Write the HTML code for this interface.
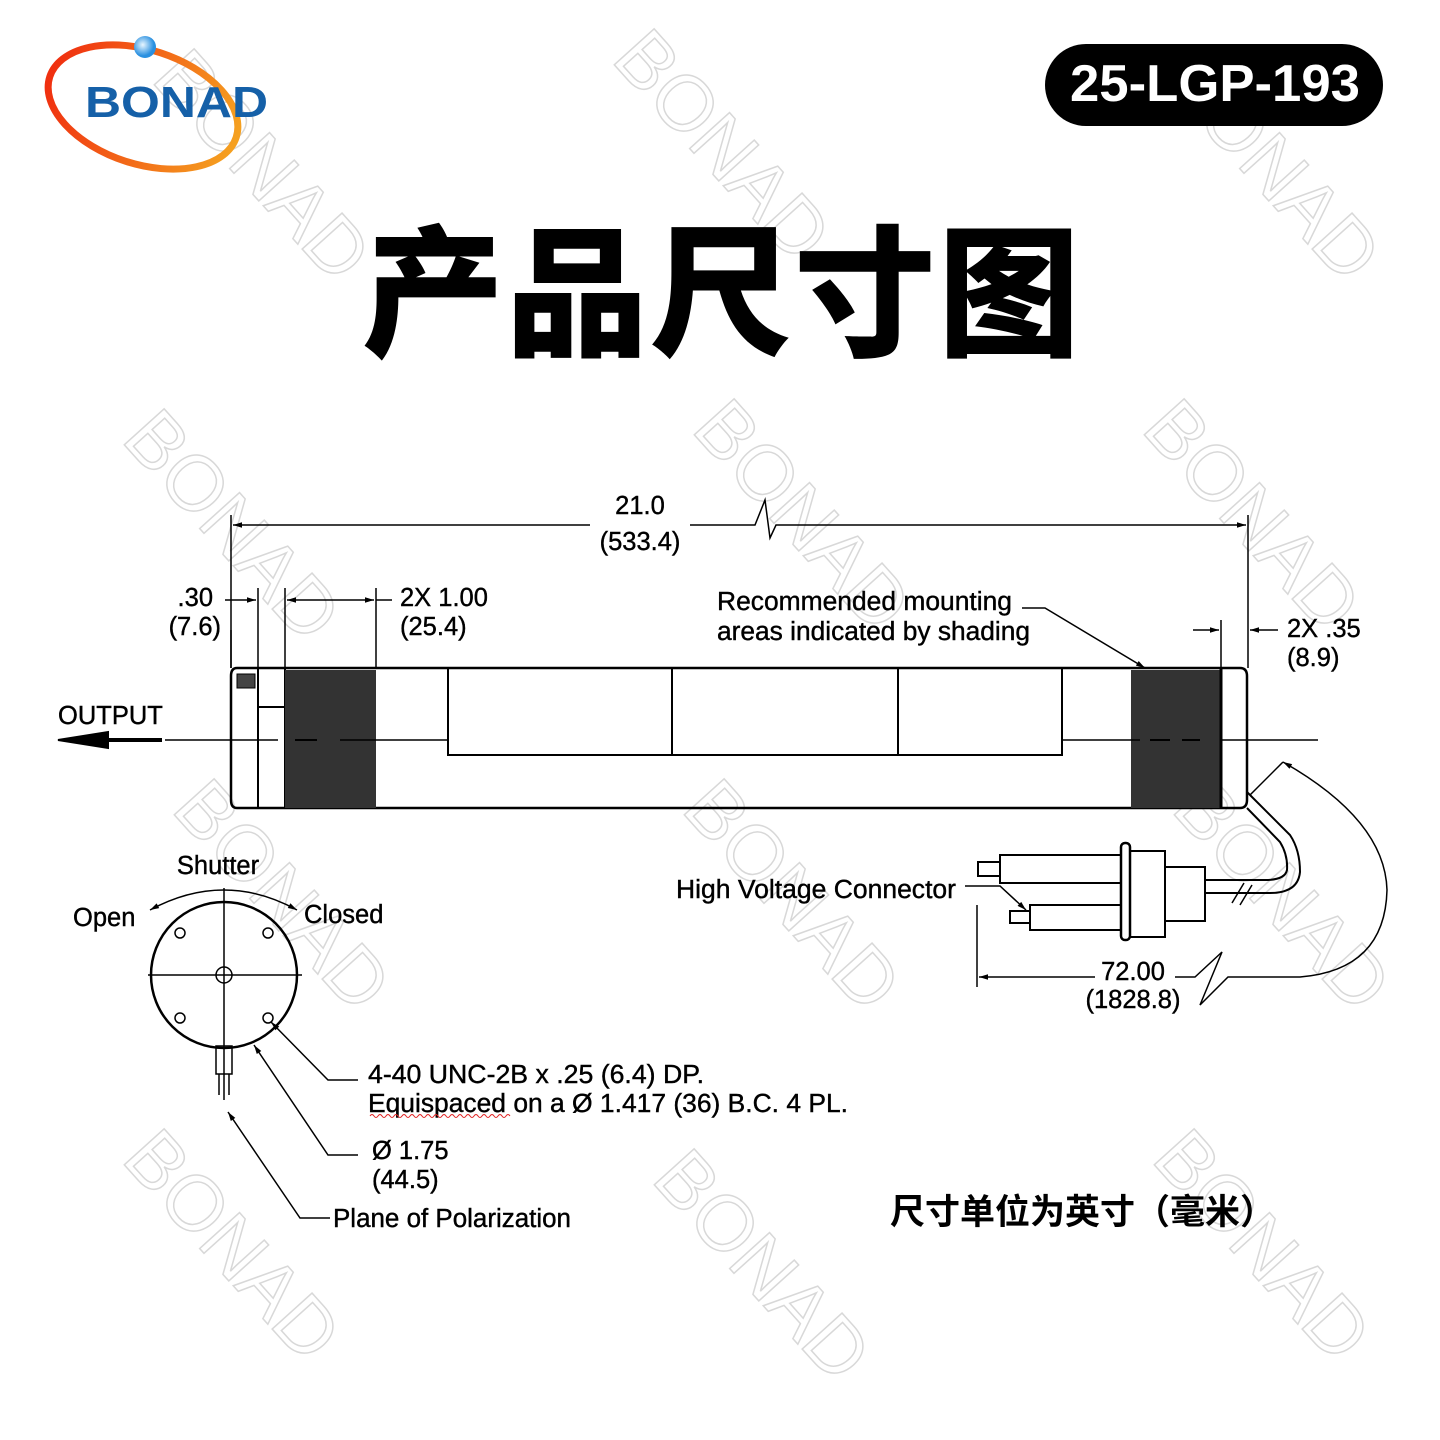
<!DOCTYPE html>
<html><head><meta charset="utf-8"><style>
body{margin:0;background:#fff}
svg{display:block}
text{font-family:"Liberation Sans","Noto Sans CJK SC",sans-serif}
</style></head><body>
<svg width="1440" height="1440" viewBox="0 0 1440 1440" xmlns="http://www.w3.org/2000/svg">
<defs>
<linearGradient id="og" x1="0" x2="1"><stop offset="0" stop-color="#f03010"/><stop offset="1" stop-color="#f5a020"/></linearGradient>
<radialGradient id="bg" cx="0.4" cy="0.4"><stop offset="0" stop-color="#e8f6ff"/><stop offset="1" stop-color="#2a90e0"/></radialGradient>
<marker id="ar" viewBox="0 0 10 10" refX="10" refY="5" markerWidth="8" markerHeight="6" orient="auto-start-reverse"><path d="M0,2 L10,5 L0,8z" fill="#000"/></marker>
</defs>
<g font-size="78" fill="none" stroke="#d8d8d8" stroke-width="1.5" font-family="Liberation Serif,serif">
<text transform="translate(150,80) rotate(48)">BONAD</text>
<text transform="translate(610,60) rotate(48)">BONAD</text>
<text transform="translate(1160,80) rotate(48)">BONAD</text>
<text transform="translate(120,440) rotate(48)">BONAD</text>
<text transform="translate(690,430) rotate(48)">BONAD</text>
<text transform="translate(1140,430) rotate(48)">BONAD</text>
<text transform="translate(170,810) rotate(48)">BONAD</text>
<text transform="translate(680,810) rotate(48)">BONAD</text>
<text transform="translate(1170,810) rotate(48)">BONAD</text>
<text transform="translate(120,1160) rotate(48)">BONAD</text>
<text transform="translate(650,1180) rotate(48)">BONAD</text>
<text transform="translate(1150,1160) rotate(48)">BONAD</text>
</g>
<ellipse cx="143" cy="107" rx="98" ry="57" transform="rotate(18 143 107)" fill="none" stroke="url(#og)" stroke-width="7"/>
<circle cx="145" cy="47" r="11" fill="url(#bg)"/>
<text x="85" y="117" font-size="44" font-weight="bold" fill="#1560a8" textLength="183" lengthAdjust="spacingAndGlyphs">BONAD</text>
<rect x="1045" y="44" width="338" height="82" rx="41" fill="#000"/>
<text x="1215" y="101" font-size="52" font-weight="bold" fill="#fff" text-anchor="middle" textLength="290" lengthAdjust="spacingAndGlyphs">25-LGP-193</text>
<text x="722" y="345" font-size="142" font-weight="900" text-anchor="middle" font-family="Noto Sans CJK SC,sans-serif" letter-spacing="2">产品尺寸图</text>

<g stroke="#000" stroke-width="2" fill="none">
<path d="M237,668 H1240 Q1247,668 1247,676 V800 Q1247,808 1240,808 H237 Q231,808 231,800 V676 Q231,668 237,668z" stroke-width="2.5"/>
<line x1="258" y1="668" x2="258" y2="808"/>
<line x1="285" y1="668" x2="285" y2="808"/>
<line x1="258" y1="707" x2="285" y2="707"/>
<rect x="237" y="674" width="18" height="14" fill="#444" stroke-width="1"/>
<rect x="285" y="670" width="91" height="138" fill="#333" stroke="none"/>
<rect x="1131" y="670" width="90" height="138" fill="#333" stroke="none"/>
<line x1="1221" y1="668" x2="1221" y2="808" stroke-width="3"/>
<rect x="448" y="668" width="614" height="87"/>
<line x1="672" y1="668" x2="672" y2="755"/>
<line x1="898" y1="668" x2="898" y2="755"/>
<line x1="165" y1="740" x2="278" y2="740" stroke-width="1.5"/>
<line x1="295" y1="740" x2="317" y2="740"/>
<line x1="340" y1="740" x2="448" y2="740" stroke-width="1.5"/>
<line x1="1062" y1="740" x2="1140" y2="740" stroke-width="1.5"/>
<line x1="1150" y1="740" x2="1170" y2="740"/>
<line x1="1182" y1="740" x2="1200" y2="740"/>
<line x1="1221" y1="740" x2="1318" y2="740" stroke-width="1.5"/>
<line x1="95" y1="740" x2="162" y2="740" stroke-width="4"/>
<path d="M58,740 L108,732 L108,748z" fill="#000"/>
<line x1="231" y1="515" x2="231" y2="668" stroke-width="1.5"/>
<line x1="1248" y1="515" x2="1248" y2="668" stroke-width="1.5"/>
<line x1="233" y1="525" x2="590" y2="525" stroke-width="1.5" marker-start="url(#ar)"/>
<path d="M690,525 H755 L765,500 L770,538 L776,525 H1246" stroke-width="1.5" marker-end="url(#ar)"/>
<line x1="258" y1="588" x2="258" y2="668" stroke-width="1.5"/>
<line x1="231" y1="630" x2="231" y2="668" stroke-width="1.5"/>
<line x1="225" y1="600" x2="256" y2="600" stroke-width="1.5" marker-end="url(#ar)"/>
<line x1="285" y1="588" x2="285" y2="668" stroke-width="1.5"/>
<line x1="376" y1="588" x2="376" y2="668" stroke-width="1.5"/>
<line x1="287" y1="600" x2="374" y2="600" stroke-width="1.5" marker-start="url(#ar)" marker-end="url(#ar)"/>
<line x1="376" y1="600" x2="392" y2="600" stroke-width="1.5"/>
<line x1="1221" y1="620" x2="1221" y2="668" stroke-width="1.5"/>
<line x1="1193" y1="630" x2="1219" y2="630" stroke-width="1.5" marker-end="url(#ar)"/>
<line x1="1278" y1="630" x2="1250" y2="630" stroke-width="1.5" marker-end="url(#ar)"/>
<path d="M1022,608 H1045 L1145,668" stroke-width="1.5" marker-end="url(#ar)"/>
<path d="M1247,792 L1290,835 Q1300,850 1300,872 Q1298,893 1270,893 H1205" stroke-width="2"/>
<path d="M1247,808 L1280,842 Q1288,855 1287,870 Q1285,880 1265,880 H1205" stroke-width="2"/>
<line x1="1240" y1="905" x2="1252" y2="885" stroke-width="1.5"/>
<line x1="1232" y1="903" x2="1244" y2="883" stroke-width="1.5"/>
<rect x="1121" y="843" width="9" height="97" rx="4" stroke-width="2.5"/>
<rect x="1130" y="851" width="35" height="86"/>
<rect x="1165" y="867" width="40" height="54"/>
<rect x="1000" y="855" width="121" height="28"/>
<rect x="978" y="862" width="22" height="14"/>
<rect x="1030" y="905" width="91" height="25"/>
<rect x="1010" y="911" width="20" height="12"/>
<path d="M965,886 H1000 L1026,910" stroke-width="1.5" marker-end="url(#ar)"/>
<line x1="977" y1="905" x2="977" y2="987" stroke-width="1.5"/>
<line x1="979" y1="977" x2="1095" y2="977" stroke-width="1.5" marker-start="url(#ar)"/>
<path d="M1175,977 H1195 L1222,952 L1200,1005 L1228,977 H1300 Q1385,970 1387,890 Q1385,820 1283,762" stroke-width="1.5" marker-end="url(#ar)"/>
<line x1="1283" y1="762" x2="1250" y2="795" stroke-width="1.5"/>
<circle cx="224" cy="975" r="73" stroke-width="2.5"/>
<line x1="148" y1="975" x2="302" y2="975" stroke-width="1.5"/>
<line x1="224" y1="888" x2="224" y2="1100" stroke-width="1.5"/>
<circle cx="224" cy="975" r="8" stroke-width="1.5"/>
<circle cx="180" cy="933" r="5" stroke-width="1.5"/>
<circle cx="268" cy="933" r="5" stroke-width="1.5"/>
<circle cx="180" cy="1018" r="5" stroke-width="1.5"/>
<circle cx="268" cy="1018" r="5" stroke-width="1.5"/>
<rect x="216" y="1046" width="16" height="28" stroke-width="1.5"/>
<line x1="219" y1="1074" x2="219" y2="1095" stroke-width="1.5"/>
<line x1="229" y1="1074" x2="229" y2="1095" stroke-width="1.5"/>
<path d="M150,910 Q224,870 297,910" stroke-width="1.5" marker-start="url(#ar)" marker-end="url(#ar)"/>
<path d="M358,1080 H328 L271,1022" stroke-width="1.5" marker-end="url(#ar)"/>
<path d="M358,1155 H328 L254,1045" stroke-width="1.5" marker-end="url(#ar)"/>
<path d="M330,1218 H300 L228,1112" stroke-width="1.5" marker-end="url(#ar)"/>
</g>

<g font-size="25.5" fill="#000" stroke="#000" stroke-width="0.4">
<text x="640" y="514" text-anchor="middle">21.0</text>
<text x="640" y="550" text-anchor="middle">(533.4)</text>
<text x="213" y="606" text-anchor="end">.30</text>
<text x="221" y="635" text-anchor="end">(7.6)</text>
<text x="400" y="606">2X 1.00</text>
<text x="400" y="635">(25.4)</text>
<text x="717" y="610" textLength="295" lengthAdjust="spacingAndGlyphs">Recommended mounting</text>
<text x="717" y="640" textLength="313" lengthAdjust="spacingAndGlyphs">areas indicated by shading</text>
<text x="1287" y="637">2X .35</text>
<text x="1287" y="666">(8.9)</text>
<text x="58" y="724">OUTPUT</text>
<text x="676" y="898" textLength="280" lengthAdjust="spacingAndGlyphs">High Voltage Connector</text>
<text x="1133" y="980" text-anchor="middle">72.00</text>
<text x="1133" y="1008" text-anchor="middle">(1828.8)</text>
<text x="218" y="874" text-anchor="middle">Shutter</text>
<text x="73" y="926">Open</text>
<text x="304" y="923">Closed</text>
<text x="368" y="1083" textLength="336" lengthAdjust="spacingAndGlyphs">4-40 UNC-2B x .25 (6.4) DP.</text>
<text x="368" y="1112" textLength="480" lengthAdjust="spacingAndGlyphs">Equispaced on a Ø 1.417 (36) B.C. 4 PL.</text>
<text x="372" y="1159">Ø 1.75</text>
<text x="372" y="1188">(44.5)</text>
<text x="333" y="1227" textLength="238" lengthAdjust="spacingAndGlyphs">Plane of Polarization</text>
</g>
<path d="M370,1116 q2,-3 4,0 t4,0 t4,0 t4,0 t4,0 t4,0 t4,0 t4,0 t4,0 t4,0 t4,0 t4,0 t4,0 t4,0 t4,0 t4,0 t4,0 t4,0 t4,0 t4,0 t4,0 t4,0 t4,0 t4,0 t4,0 t4,0 t4,0 t4,0 t4,0 t4,0 t4,0 t4,0 t4,0 t4,0 t4,0" stroke="#e02020" fill="none" stroke-width="1"/>
<text x="890" y="1224" font-size="35" font-weight="bold" font-family="Noto Sans CJK SC,sans-serif">尺寸单位为英寸（毫米）</text>
</svg>
</body></html>
